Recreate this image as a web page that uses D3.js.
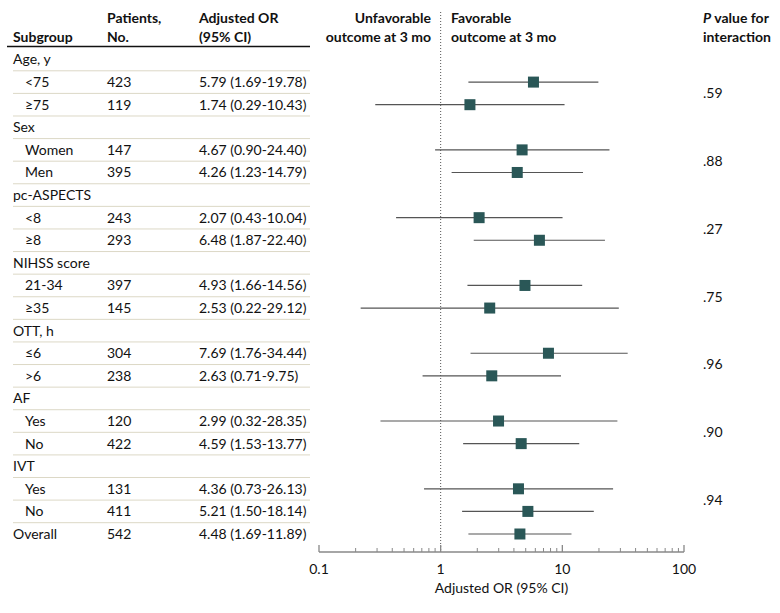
<!DOCTYPE html>
<html><head><meta charset="utf-8">
<script src="https://cdn.jsdelivr.net/npm/d3@7"></script>
<style>body{margin:0;background:#fff}svg{display:block}text{font-family:Lato,"Open Sans",sans-serif;fill:#111}</style>
</head><body>
<script>
// Data
const labels = ["Age, y","<75","≥75","Sex","Women","Men","pc-ASPECTS","<8","≥8","NIHSS score","21-34","≥35","OTT, h","≤6",">6","AF","Yes","No","IVT","Yes","No","Overall"];
const isHeader = [1,0,0,1,0,0,1,0,0,1,0,0,1,0,0,1,0,0,1,0,0,2];
const patients = [null,423,119,null,147,395,null,243,293,null,397,145,null,304,238,null,120,422,null,131,411,542];
const orText = [null,"5.79 (1.69-19.78)","1.74 (0.29-10.43)",null,"4.67 (0.90-24.40)","4.26 (1.23-14.79)",null,"2.07 (0.43-10.04)","6.48 (1.87-22.40)",null,"4.93 (1.66-14.56)","2.53 (0.22-29.12)",null,"7.69 (1.76-34.44)","2.63 (0.71-9.75)",null,"2.99 (0.32-28.35)","4.59 (1.53-13.77)",null,"4.36 (0.73-26.13)","5.21 (1.50-18.14)","4.48 (1.69-11.89)"];
const orVal = [null,5.79,1.74,null,4.67,4.26,null,2.07,6.48,null,4.93,2.53,null,7.69,2.63,null,2.99,4.59,null,4.36,5.21,4.48];
const ciLow = [null,1.69,0.29,null,0.90,1.23,null,0.43,1.87,null,1.66,0.22,null,1.76,0.71,null,0.32,1.53,null,0.73,1.50,1.69];
const ciHigh = [null,19.78,10.43,null,24.40,14.79,null,10.04,22.40,null,14.56,29.12,null,34.44,9.75,null,28.35,13.77,null,26.13,18.14,11.89];
const pValues = [".59",".88",".27",".75",".96",".90",".94"];
const pRows = [1,4,7,10,13,16,19];
const axisTicks = [0.1,1,10,100];

const W=780,H=613;
const svg=d3.select("body").append("svg").attr("width",W).attr("height",H);
const x=d3.scaleLog().domain([0.1,100]).range([319,684]);
const y=d3.scaleLinear().domain([0,21]).range([59.5,534]);
const step=y(1)-y(0);
const fs=14;

function txt(t,xx,yy,opts={}){const e=svg.append("text").attr("x",xx).attr("y",yy).attr("dy","0.35em").attr("font-size",opts.size||fs).text(t);
 if(opts.bold)e.attr("font-weight","bold");if(opts.anchor)e.attr("text-anchor",opts.anchor);return e;}
txt("Subgroup",13,37,{bold:1});
txt("Patients,",107,18,{bold:1});txt("No.",107,37,{bold:1});
txt("Adjusted OR",199,18,{bold:1});txt("(95% CI)",199,37,{bold:1});
txt("Unfavorable",431,18,{bold:1,anchor:"end"});txt("outcome at 3 mo",431,37,{bold:1,anchor:"end"});
txt("Favorable",451,18,{bold:1});txt("outcome at 3 mo",451,37,{bold:1});
const pv=svg.append("text").attr("x",703).attr("y",18).attr("dy","0.35em").attr("font-size",fs).attr("font-weight","bold");
pv.append("tspan").attr("font-style","italic").text("P");pv.append("tspan").text(" value for");
txt("interaction",703,37,{bold:1});
svg.append("line").attr("x1",7).attr("x2",310).attr("y1",46.5).attr("y2",46.5).attr("stroke","#111").attr("stroke-width",1.5);

// separators
labels.forEach((l,i)=>{ if(i<labels.length-1){
  svg.append("line").attr("x1",13).attr("x2",310).attr("y1",y(i)+step/2).attr("y2",y(i)+step/2).attr("stroke","#dcd8c6").attr("stroke-width",1);
}});

// table text
labels.forEach((l,i)=>{
  const yy=y(i);
  txt(l,isHeader[i]?13:25,yy);
  if(patients[i]!=null)txt(patients[i],107,yy);
  if(orText[i]!=null)txt(orText[i],199,yy);
});

// dotted reference line
svg.append("line").attr("x1",x(1)).attr("x2",x(1)).attr("y1",12).attr("y2",552).attr("stroke","#555").attr("stroke-width",1).attr("stroke-dasharray","1,2");

// CI lines and markers
labels.forEach((l,i)=>{
  if(orVal[i]==null)return;
  const yy=y(i);
  svg.append("line").attr("x1",x(ciLow[i])).attr("x2",x(ciHigh[i])).attr("y1",yy).attr("y2",yy).attr("stroke","#555").attr("stroke-width",1.2);
  svg.append("rect").attr("x",x(orVal[i])-5.5).attr("y",yy-5.5).attr("width",11).attr("height",11).attr("fill","#2a5757");
});

// p values
pValues.forEach((p,k)=>{ txt(p,703,(y(pRows[k])+y(pRows[k]+1))/2); });

// axis
const ay=552;
const minor=[];
for(let d=0.1;d<100;d*=10){for(let m=2;m<=9;m++)minor.push(+(d*m).toPrecision(3));}
const ag=svg.append("g");
ag.append("line").attr("x1",x(0.1)).attr("x2",x(100)).attr("y1",ay).attr("y2",ay).attr("stroke","#888").attr("stroke-width",1.3);
ag.selectAll(".mj").data(axisTicks).enter().append("line").attr("x1",d=>x(d)).attr("x2",d=>x(d)).attr("y1",ay).attr("y2",ay-7).attr("stroke","#888").attr("stroke-width",1.3);
ag.selectAll(".mn").data(minor).enter().append("line").attr("x1",d=>x(d)).attr("x2",d=>x(d)).attr("y1",ay).attr("y2",ay-4).attr("stroke","#888").attr("stroke-width",1);
ag.selectAll(".tl").data(axisTicks).enter().append("text").attr("x",d=>x(d)).attr("y",569).attr("dy","0.35em").attr("text-anchor","middle").attr("font-size",fs).text(d=>d3.format("~g")(d));
txt("Adjusted OR (95% CI)",(x(0.1)+x(100))/2,588,{anchor:"middle"});
</script>
</body></html>
